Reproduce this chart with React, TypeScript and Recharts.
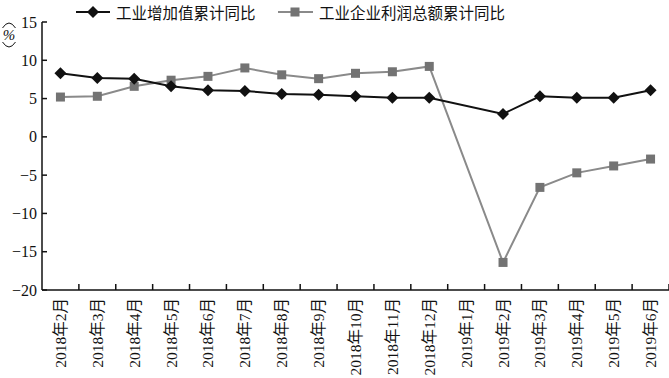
import { LineChart, Line, XAxis, YAxis } from "recharts";

const months = [
  "2018年2月", "2018年3月", "2018年4月", "2018年5月", "2018年6月", "2018年7月",
  "2018年8月", "2018年9月", "2018年10月", "2018年11月", "2018年12月",
  "2019年1月", "2019年2月", "2019年3月", "2019年4月", "2019年5月", "2019年6月",
];

// 工业增加值累计同比
const valueAdded = [8.3, 7.7, 7.6, 6.6, 6.1, 6.0, 5.6, 5.5, 5.3, 5.1, 5.1, null, 3.0, 5.3, 5.1, 5.1, 6.1];
// 工业企业利润总额累计同比
const profit = [5.2, 5.3, 6.6, 7.4, 7.9, 9.0, 8.1, 7.6, 8.3, 8.5, 9.2, null, -16.4, -6.6, -4.7, -3.8, -2.9];

const yTicks = [-20, -15, -10, -5, 0, 5, 10, 15];

const data = months.map((m, i) => ({ month: m, va: valueAdded[i], profit: profit[i] }));

const serif = "'Liberation Serif', 'Noto Sans CJK SC', serif";
const cjk = "'Noto Sans CJK SC', sans-serif";

const Diamond = (props: any) => {
  const { cx, cy } = props;
  if (cx == null || cy == null) return null;
  const r = 6;
  return <path d={`M${cx},${cy - r}L${cx + r},${cy}L${cx},${cy + r}L${cx - r},${cy}Z`} fill="#111" />;
};

const Square = (props: any) => {
  const { cx, cy } = props;
  if (cx == null || cy == null) return null;
  const s = 4.5;
  return <rect x={cx - s} y={cy - s} width={s * 2} height={s * 2} fill="#737373" />;
};

const XTick = (props: any) => {
  const { x, y, payload } = props;
  const off = payload.offset || 18.45;
  return (
    <g>
      <line x1={x + off} x2={x + off} y1={y} y2={y - 6} stroke="#111" strokeWidth={1.5} />
      <text
        transform={`translate(${x},${y + 8}) rotate(-90)`}
        textAnchor="end"
        dominantBaseline="central"
        fontFamily={serif}
        fontSize={15.5}
        fill="#111"
      >
        {payload.value}
      </text>
    </g>
  );
};

const YTick = (props: any) => {
  const { x, y, payload } = props;
  const v = payload.value as number;
  const label = v < 0 ? "\u2212" + Math.abs(v) : String(v);
  return (
    <g>
      <line x1={x + 5} x2={x + 10} y1={y} y2={y} stroke="#111" strokeWidth={1.5} />
      <text x={x} y={y} textAnchor="end" dominantBaseline="central" fontFamily={serif} fontSize={16} fill="#111">
        {label}
      </text>
    </g>
  );
};

const LegendBox = () => (
  <svg width={460} height={24} style={{ position: "absolute", left: 75, top: 0 }}>
    <line x1={1} x2={35} y1={12} y2={12} stroke="#111" strokeWidth={2} />
    <Diamond cx={18} cy={12} />
    <text x={41} y={12} dominantBaseline="central" fontFamily={cjk} fontSize={15.5} fill="#111">
      工业增加值累计同比
    </text>
    <line x1={203} x2={238} y1={12} y2={12} stroke="#8a8a8a" strokeWidth={2} />
    <Square cx={220} cy={12} />
    <text x={244} y={12} dominantBaseline="central" fontFamily={cjk} fontSize={15.5} fill="#111">
      工业企业利润总额累计同比
    </text>
  </svg>
);

const UnitLabel = () => (
  <g>
    <path d="M2.5,28 Q9,18 15.5,28" fill="none" stroke="#111" strokeWidth={1} />
    <text x={9} y={35} textAnchor="middle" dominantBaseline="central" fontSize={15} fontFamily={serif} fontStyle="italic" fill="#111">
      %
    </text>
    <path d="M2.5,42 Q9,52 15.5,42" fill="none" stroke="#111" strokeWidth={1} />
  </g>
);

export default function App() {
  return (
    <div style={{ position: "absolute", left: 0, top: 0, width: 669, height: 378, background: "#fff" }}>
      <LineChart width={669} height={378} data={data} margin={{ top: 22, right: 0, bottom: 0, left: 0 }}>
        <XAxis
          dataKey="month"
          scale="band"
          interval={0}
          height={88}
          tickLine={false}
          tickSize={0}
          tickMargin={0}
          axisLine={{ stroke: "#111", strokeWidth: 1.5 }}
          tick={<XTick />}
        />
        <YAxis
          width={42}
          domain={[-20, 15]}
          ticks={yTicks}
          interval={0}
          tickLine={false}
          tickSize={0}
          tickMargin={5}
          axisLine={{ stroke: "#111", strokeWidth: 1.5 }}
          tick={<YTick />}
          label={{ content: () => <UnitLabel /> }}
        />
        <Line
          dataKey="profit"
          stroke="#8a8a8a"
          strokeWidth={2}
          connectNulls
          dot={<Square />}
          activeDot={false}
          isAnimationActive={false}
        />
        <Line
          dataKey="va"
          stroke="#111"
          strokeWidth={2}
          connectNulls
          dot={<Diamond />}
          activeDot={false}
          isAnimationActive={false}
        />
      </LineChart>
      <LegendBox />
    </div>
  );
}
